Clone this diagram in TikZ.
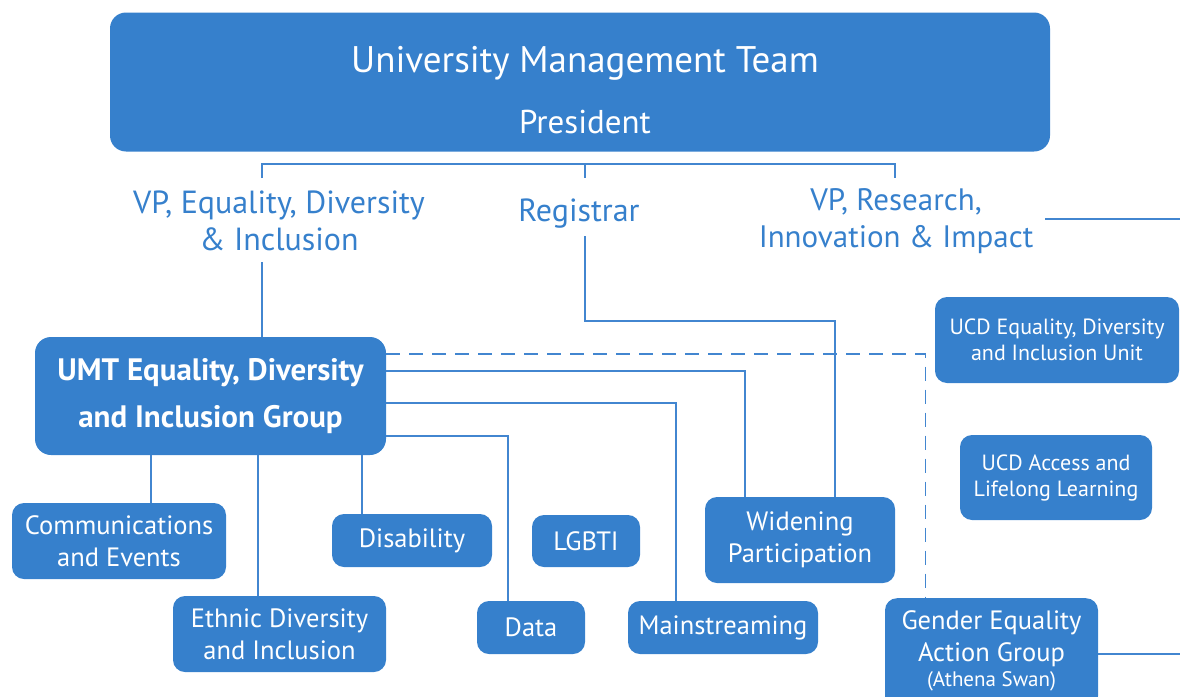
\documentclass[tikz,border=0pt]{standalone}
\usepackage{fontspec}
\setmainfont{PT Sans}
\usetikzlibrary{positioning}

\definecolor{ucdblue}{RGB}{54,128,204}
\definecolor{linkblue}{RGB}{66,134,208}

\tikzset{
  unitbox/.style={rounded corners=12pt, fill=ucdblue, text=white, align=center,
    inner sep=0pt, font=\fontsize{26.5}{32}\selectfont},
  plain/.style={text=ucdblue, align=center, inner sep=0pt,
    font=\fontsize{32}{37}\selectfont},
  link/.style={linkblue, line width=1.3pt},
}

\begin{document}
\begin{tikzpicture}[x=1pt, y=-1pt]
    \useasboundingbox (0,0) rectangle (1180,696);
    \clip (0,0) rectangle (1180,696);

    % top of the tree
    \node[unitbox, rounded corners=16pt, minimum width=940pt, minimum height=139pt] (umteam) at (580,82) {};
    \node[text=white, font=\fontsize{37}{42}\selectfont] (title) at (585,63) {University Management Team};
    \node[text=white, font=\fontsize{33}{38}\selectfont] (pres) at (585,122) {President};

    \node[plain] (vpedi) at (279,221) {VP, Equality, Diversity\\\& Inclusion};
    \node[plain] (reg)   at (579,214) {Registrar};
    \node[plain, font=\fontsize{31}{37}\selectfont] (vpres) at (896,221) {VP, Research,\\Innovation \& Impact};

    \coordinate (bl) at (262,164);
    \coordinate (bm) at (585,164);
    \coordinate (br) at (895,164);
    \coordinate (rr) at (1045,219);

    % group and sub-groups
    \node[unitbox, rounded corners=16pt, minimum width=351pt, minimum height=118pt,
          font=\bfseries\fontsize{31}{47}\selectfont] (umt) at (210.5,396) {UMT Equality, Diversity\\and Inclusion Group};

    \node[unitbox, minimum width=214pt, minimum height=76pt] (comms)   at (119,541)   {Communications\\and Events};
    \node[unitbox, minimum width=160pt, minimum height=53pt] (disab)   at (412,540.5) {Disability};
    \node[unitbox, minimum width=108pt, minimum height=52pt] (lgbti)   at (586,541)   {LGBTI};
    \node[unitbox, minimum width=190pt, minimum height=86pt] (widen)   at (800,540)   {Widening\\Participation};
    \node[unitbox, minimum width=213pt, minimum height=76pt] (ethnic)  at (279.5,634) {Ethnic Diversity\\and Inclusion};
    \node[unitbox, minimum width=108pt, minimum height=53pt] (data)    at (531,627.5) {Data};
    \node[unitbox, minimum width=190pt, minimum height=53pt] (mainstr) at (723,627.5) {Mainstreaming};
    \node[unitbox, minimum width=213pt, minimum height=110pt, anchor=north] (gender) at (991.5,598) {};
    \node[text=white, align=center, inner sep=0pt, font=\fontsize{26.5}{32}\selectfont,
          anchor=north] (gendtxt) at (991.5,610) {Gender Equality\\Action Group};
    \node[text=white, inner sep=0pt, font=\fontsize{21}{24}\selectfont] (athena) at (991.5,681) {(Athena Swan)};

    \node[unitbox, minimum width=244pt, minimum height=86pt,
          font=\fontsize{22}{26}\selectfont] (ucdedi) at (1057,340)   {UCD Equality, Diversity\\and Inclusion Unit};
    \node[unitbox, minimum width=192pt, minimum height=85pt,
          font=\fontsize{22}{26}\selectfont] (access) at (1056,477.5) {UCD Access and\\Lifelong Learning};

    % connectors
    \draw[link] ([yshift=-14pt]bl) -- (bl) -- (br) -- ([yshift=-14pt]br);
    \draw[link] (bm) -- ([yshift=-14pt]bm);

    \draw[link] ([xshift=51.5pt]umt.north) -- ([xshift=51.5pt]umt.north |- 0,262);
    \draw[link] (585,236) |- (835,321) -- ([xshift=35pt]widen.north);
    \draw[link] ([yshift=25pt]umt.east) -| ([xshift=-55pt]widen.north);
    \draw[link] ([yshift=-7pt]umt.east) -| ([xshift=-47pt]mainstr.north);
    \draw[link] ([yshift=-40pt]umt.east) -| ([xshift=-23pt]data.north);
    \draw[link, dash pattern=on 14pt off 9pt] ([yshift=42pt]umt.east) -| ([xshift=-66pt]gender.north);

    \draw[link] ([xshift=32pt]comms.north) -- ([xshift=32pt]comms.north |- umt.south);
    \draw[link] ([xshift=-21.5pt]ethnic.north) -- ([xshift=-21.5pt]ethnic.north |- umt.south);
    \draw[link] ([xshift=-50pt]disab.north) -- ([xshift=-50pt]disab.north |- umt.south);

    \draw[link] (rr) -- (1180,219);
    \draw[link] (gender.east |- 0,654) -- (1180,654);
\end{tikzpicture}
\end{document}
